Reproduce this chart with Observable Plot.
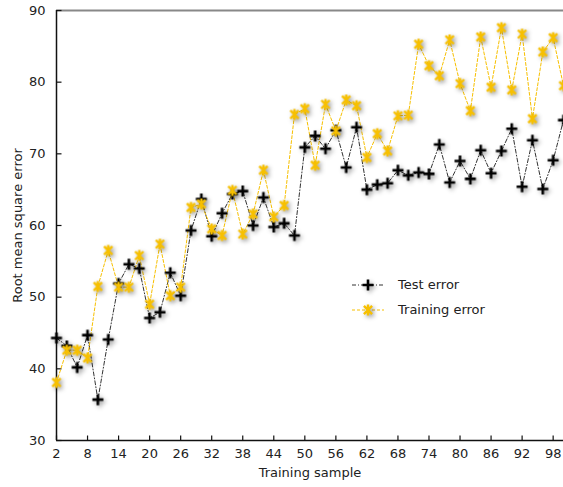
<!DOCTYPE html>
<html><head><meta charset="utf-8">
<script src="https://cdn.jsdelivr.net/npm/d3@7"></script>
<script src="https://cdn.jsdelivr.net/npm/@observablehq/plot@0.6"></script>
<style>
body{margin:0;background:#fff;font-family:"DejaVu Sans",Verdana,sans-serif;}
#wrap{position:relative;width:563px;height:487px;overflow:hidden;}
.legend{position:absolute;left:350px;top:272px;font-size:13px;color:#222;}
.legend .row{display:flex;align-items:center;height:25px;}
.legend svg{margin-right:8px;overflow:visible;}
.shadow{filter:drop-shadow(2.5px 2px 2px rgba(0,0,0,0.38));}
</style></head><body><div id="wrap"></div>
<script>
const samples = [2,4,6,8,10,12,14,16,18,20,22,24,26,28,30,32,34,36,38,40,42,44,46,48,50,52,54,56,58,60,62,64,66,68,70,72,74,76,78,80,82,84,86,88,90,92,94,96,98,100];
const testError = [44.3,43.2,40.2,44.7,35.7,44.1,51.9,54.6,54.0,47.1,47.9,53.4,50.2,59.3,63.7,58.5,61.7,64.4,64.8,60.0,63.9,59.8,60.3,58.6,70.9,72.5,70.7,73.3,68.1,73.7,65.0,65.7,65.9,67.7,67.0,67.4,67.2,71.3,66.0,69.0,66.5,70.5,67.3,70.4,73.5,65.4,71.9,65.1,69.1,74.7];
const trainingError = [38.1,42.6,42.6,41.5,51.5,56.5,51.4,51.4,55.8,49.0,57.4,50.2,51.4,62.5,63.0,59.5,58.6,64.9,58.8,61.6,67.7,61.2,62.8,75.5,76.3,68.4,76.9,73.2,77.5,76.7,69.5,72.8,70.4,75.3,75.4,85.3,82.3,80.9,85.9,79.8,76.0,86.3,79.3,87.6,78.9,86.7,74.9,84.2,86.2,79.5];
const seriesNames = ["Test error", "Training error"];
const xTicks = [2,8,14,20,26,32,38,44,50,56,62,68,74,80,86,92,98];
const yTicks = [30,40,50,60,70,80,90];
const xDomain = [2,100];
const yDomain = [30,90];

const gold = "#f7c000";
const data = samples.map((x,i)=>({x, test:testError[i], train:trainingError[i]}));

const plus = {draw(ctx,size){const r=Math.sqrt(size/Math.PI);ctx.moveTo(-r,0);ctx.lineTo(r,0);ctx.moveTo(0,-r);ctx.lineTo(0,r);}};
const star = {draw(ctx,size){const r=Math.sqrt(size/Math.PI);const d=r*0.75;ctx.moveTo(-d,-d);ctx.lineTo(d,d);ctx.moveTo(-d,d);ctx.lineTo(d,-d);ctx.moveTo(0,-r);ctx.lineTo(0,r);}};
const tickUp = {draw(ctx,size){const r=Math.sqrt(size/Math.PI);ctx.moveTo(0,0);ctx.lineTo(0,-r);}};
const tickRight = {draw(ctx,size){const r=Math.sqrt(size/Math.PI);ctx.moveTo(0,0);ctx.lineTo(r,0);}};

const chart = Plot.plot({
  width:563, height:487,
  marginLeft:56, marginRight:0, marginTop:10, marginBottom:47,
  style:{fontFamily:"DejaVu Sans, Verdana, sans-serif", fontSize:"13px", color:"#222", background:"white", overflow:"visible"},
  x:{domain:xDomain, ticks:xTicks, label:null},
  y:{domain:yDomain, ticks:yTicks, label:null},
  marks:[
    Plot.axisX({ticks:xTicks, tickSize:0, tickPadding:8, label:"Training sample", labelAnchor:"center", labelOffset:36, labelArrow:"none"}),
    Plot.axisY({ticks:yTicks, tickSize:0, tickPadding:11, label:"Root mean square error", labelAnchor:"center", labelOffset:44, labelArrow:"none"}),
    Plot.ruleY([yDomain[1]], {stroke:"#888", strokeWidth:2}),
    Plot.ruleY([yDomain[0]], {stroke:"#111", strokeWidth:1.5}),
    Plot.ruleX([xDomain[0]], {stroke:"#111", strokeWidth:1.5}),
    Plot.dot(xTicks, {x:d=>d, y:yDomain[0], symbol:tickUp, r:5, stroke:"#111", strokeWidth:1.2, fill:"none"}),
    Plot.dot(yTicks, {x:xDomain[0], y:d=>d, symbol:tickRight, r:5, stroke:"#111", strokeWidth:1.2, fill:"none"}),
    Plot.line(data, {x:"x", y:"test", stroke:"#333", strokeWidth:1, strokeDasharray:"4,2,1,2"}),
    Plot.line(data, {x:"x", y:"train", stroke:gold, strokeWidth:1, strokeDasharray:"3,2"}),
    Plot.dot(data, {x:"x", y:"test", symbol:plus, r:5.5, stroke:"#000", strokeWidth:2.6, fill:"none"}),
    Plot.dot(data, {x:"x", y:"train", symbol:star, r:5.5, stroke:gold, strokeWidth:2.4, fill:"none"})
  ]
});
const wrap = document.getElementById("wrap");
wrap.appendChild(chart);
const dotGroups = chart.querySelectorAll('g[aria-label="dot"]');
dotGroups[dotGroups.length-1].classList.add("shadow");
dotGroups[dotGroups.length-2].classList.add("shadow");

// legend
const leg = document.createElement("div");
leg.className = "legend";
leg.innerHTML = `
<div class="row"><svg width="40" height="14" viewBox="0 0 40 14"><line x1="2" y1="7" x2="34" y2="7" stroke="#333" stroke-width="1" stroke-dasharray="4,2,1,2"/><path class="shadow" d="M12.5,7H23.5M18,1.5V12.5" stroke="#000" stroke-width="2.6" fill="none"/></svg><span>${seriesNames[0]}</span></div>
<div class="row"><svg width="40" height="14" viewBox="0 0 40 14"><line x1="2" y1="7" x2="34" y2="7" stroke="${gold}" stroke-width="1" stroke-dasharray="3,2"/><path class="shadow" d="M13.9,2.9L22.1,11.1M13.9,11.1L22.1,2.9M18,1.5V12.5" stroke="${gold}" stroke-width="2.4" fill="none"/></svg><span>${seriesNames[1]}</span></div>`;
wrap.appendChild(leg);
</script></body></html>
